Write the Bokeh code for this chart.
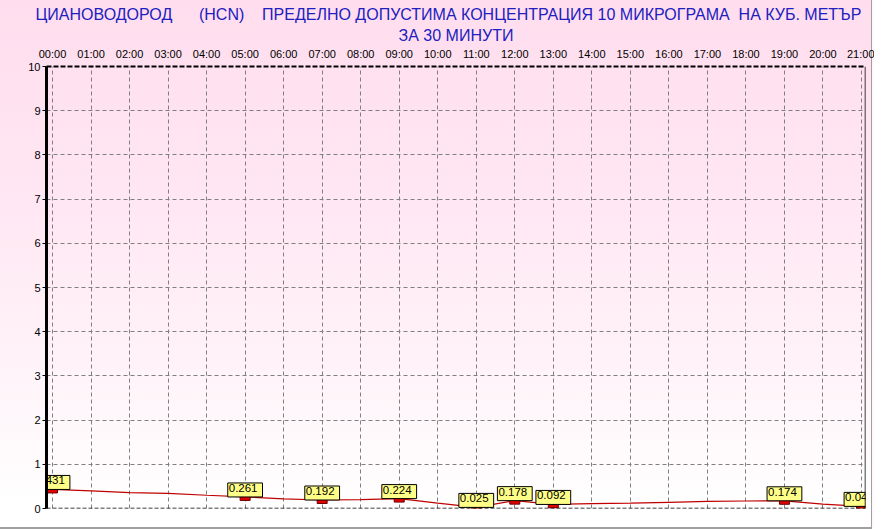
from bokeh.plotting import figure
from bokeh.models import Range1d, FixedTicker, Span, Title, ColumnDataSource
from bokeh.embed import file_html
from bokeh.resources import INLINE
from bokeh.core.properties import value

# ---- data ----
title_line1 = ("ЦИАНОВОДОРОД\u00a0\u00a0\u00a0\u00a0\u00a0\u00a0(HCN)\u00a0\u00a0\u00a0\u00a0"
               "ПРЕДЕЛНО ДОПУСТИМА КОНЦЕНТРАЦИЯ 10 МИКРОГРАМА\u00a0\u00a0НА КУБ. МЕТЪР")
title_line2 = "ЗА 30 МИНУТИ"

hours = list(range(22))
tick_labels = [f"{h:02d}:00" for h in hours]
values = [0.431, 0.40, 0.36, 0.34, 0.30, 0.261, 0.22, 0.192, 0.20, 0.224, 0.12,
          0.025, 0.178, 0.092, 0.11, 0.12, 0.14, 0.16, 0.17, 0.174, 0.10, 0.048]
marked_hours = [0, 5, 7, 9, 11, 12, 13, 19, 21]
marked_values = [values[h] for h in marked_hours]
marked_text = [f"{v:.3f}" for v in marked_values]
y_ticks = list(range(11))

FONT = "Liberation Sans"
X0, X1 = -0.156, 21.104

p = figure(width=874, height=529,
           x_range=Range1d(X0, X1), y_range=Range1d(0, 10),
           x_axis_location="above", output_backend="svg", toolbar_location=None,
           min_border_left=46, min_border_right=9, min_border_top=66, min_border_bottom=21)
p.border_fill_color = None
p.background_fill_color = None
p.outline_line_color = None
p.styles = {
    "background": "linear-gradient(to bottom, #FFDDEE 0%, #FFE6F2 35%, #FFF0F7 62%, #FFFFFF 96%)",
    "box-shadow": "inset -2px 0 0 #FFF8FB, inset -3px -2px 0 #A0A0A0",
}

# titles (line 1 outermost)
p.title.text = title_line1
p.title.align = "left"
p.title.offset = -11
p.title.standoff = 2
p.title.text_font = FONT
p.title.text_font_size = "16px"
p.title.text_font_style = "normal"
p.title.text_color = "#2020C0"
t2 = Title(text=title_line2, align="center", standoff=2,
           text_font=FONT, text_font_size="16px", text_font_style="normal",
           text_color="#2020C0")
p.add_layout(t2, "above")

# top (time) axis
xa = p.xaxis[0]
xa.ticker = FixedTicker(ticks=hours)
xa.major_label_overrides = {h: t for h, t in zip(hours, tick_labels)}
xa.major_label_text_font = FONT
xa.major_label_text_font_size = "11px"
xa.major_label_text_color = "black"
xa.major_label_standoff = 7
xa.major_tick_out = 0
xa.major_tick_in = 0
xa.minor_tick_out = 0
xa.minor_tick_in = 0
xa.axis_line_color = "black"
xa.axis_line_width = 2
xa.axis_line_dash = "5 2"

ya = p.yaxis[0]
ya.ticker = FixedTicker(ticks=y_ticks)
ya.major_label_text_font = FONT
ya.major_label_text_font_size = "11px"
ya.major_label_text_color = "black"
ya.major_label_standoff = 2
ya.major_tick_out = 4
ya.major_tick_in = 0
ya.major_tick_line_color = "black"
ya.minor_tick_out = 0
ya.minor_tick_in = 0
ya.axis_line_color = "black"
ya.axis_line_width = 3

p.xgrid.ticker = FixedTicker(ticks=hours)
p.ygrid.ticker = FixedTicker(ticks=y_ticks)
for g in (p.xgrid, p.ygrid):
    g.grid_line_color = "#808080"
    g.grid_line_dash = "4 3"
    g.grid_line_width = 1

# frame edges
p.add_layout(Span(location=0, dimension="width", line_color="black",
                  line_width=1.5, line_dash="4 2"))
p.add_layout(Span(location=X1, dimension="height", line_color="black",
                  line_width=1.5))

# data line
src = ColumnDataSource(dict(x=hours, y=values))
p.line("x", "y", source=src, line_color="#C00000", line_width=1.2)

msrc = ColumnDataSource(dict(x=marked_hours, y=marked_values, t=marked_text))
p.rect("x", "y", source=msrc, width=10, height=7, width_units="screen",
       height_units="screen", fill_color="#E00000", line_color="#700000", line_width=1)
p.text("x", "y", text="t", source=msrc, anchor="bottom_center", y_offset=0,
       text_font=value(FONT), text_font_size="11.5px", text_color="black",
       background_fill_color="#FFFF88", border_line_color="black", border_line_width=1,
       padding=[1, 5, 1, 5])

open("out.html", "w").write(file_html(p, INLINE))
